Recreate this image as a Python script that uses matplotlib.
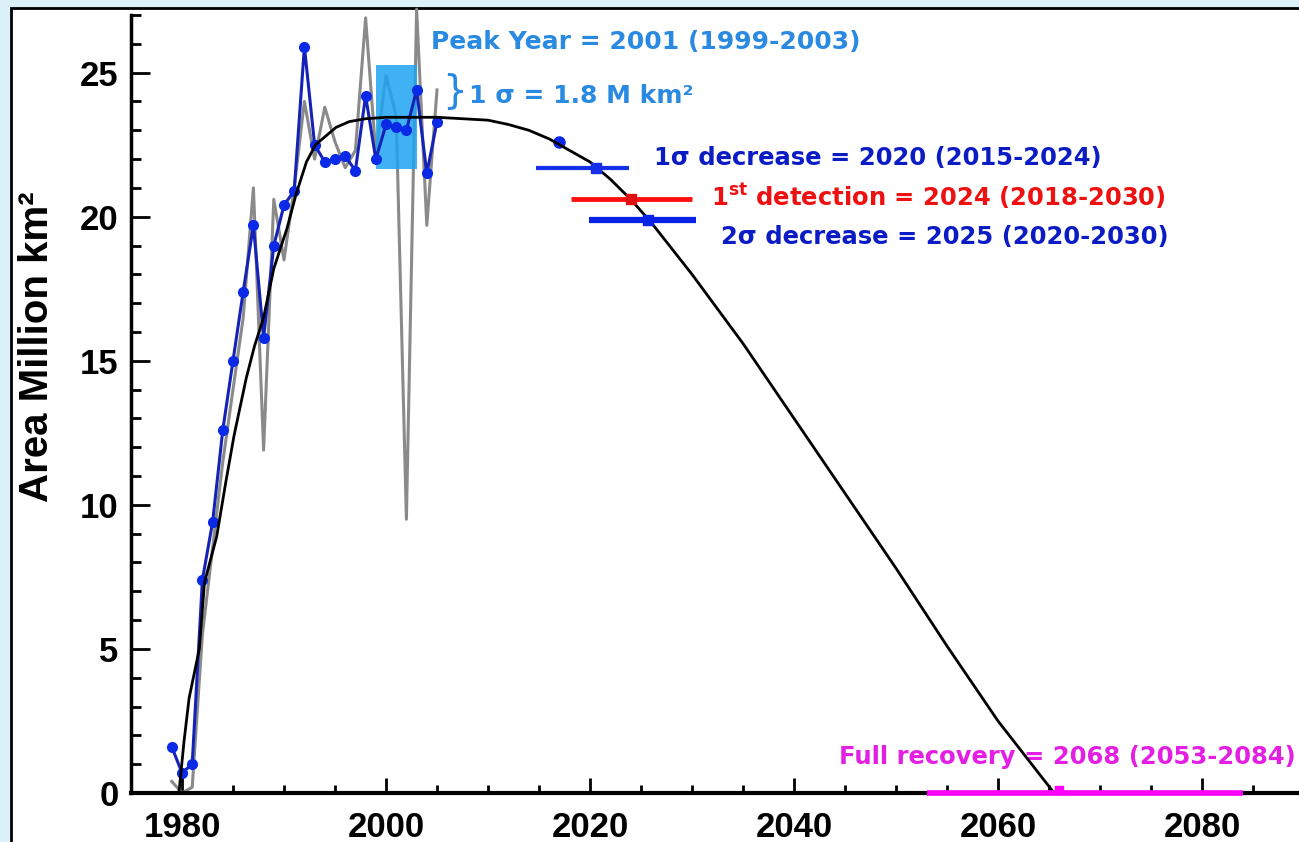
"""Ozone hole area with fitted recovery curve, redrawn as out.png."""
import matplotlib
matplotlib.use("Agg")
import matplotlib.pyplot as plt
from matplotlib.patches import Rectangle
from matplotlib.ticker import MultipleLocator

# observed area (blue, with markers)
obs_years = list(range(1979, 2006))
obs_area = [1.6, 0.7, 1.0, 7.4, 9.4, 12.6, 15.0, 17.4, 19.7, 15.8, 19.0,
            20.4, 20.9, 25.9, 22.5, 21.9, 22.0, 22.1, 21.6, 24.2, 22.0,
            23.2, 23.1, 23.0, 24.4, 21.5, 23.3]
recent_years = [2017]
recent_area = [22.6]

# second estimate (thin gray)
alt_years = list(range(1979, 2006))
alt_area = [0.4, 0.0, 0.2, 5.5, 8.5, 11.5, 14.0, 16.5, 21.0, 11.9, 20.6,
            18.5, 21.0, 24.0, 22.0, 23.8, 22.6, 21.7, 22.3, 26.9, 22.2,
            24.9, 23.5, 9.5, 27.2, 19.7, 24.4]

# fitted curve (black)
fit_years = [1979.7, 1980.2, 1980.7, 1981.7, 1982.2, 1983.4, 1984.3, 1985.1,
             1986.3, 1987.1, 1988.0, 1989.0, 1990.3, 1991.2, 1992.2, 1993.1,
             1995.1, 1996.4, 1998.0, 2000.0, 2005.0, 2010.0, 2012.0, 2014.0,
             2016.0, 2018.0, 2020.0, 2022.0, 2024.0, 2026.0, 2028.0, 2030.0,
             2032.5, 2035.0, 2037.5, 2040.0, 2045.0, 2050.0, 2055.0, 2060.0,
             2065.5]
fit_area = [0.0, 1.8, 3.3, 5.0, 7.3, 8.9, 10.8, 12.4, 14.4, 15.5, 16.5,
            18.2, 19.6, 20.8, 21.9, 22.5, 23.1, 23.3, 23.4, 23.45, 23.45,
            23.35, 23.2, 23.0, 22.7, 22.3, 21.9, 21.3, 20.6, 19.8, 18.9,
            18.0, 16.8, 15.6, 14.3, 13.0, 10.4, 7.8, 5.1, 2.5, 0.0]

# peak year box: 2001 (1999-2003), peak 23.45 +/- 1.8
peak_lo, peak_hi = 1999, 2003
peak_area, peak_sigma = 23.45, 1.8

# decrease / detection ranges
sig1_range, sig1_mark, sig1_y = (2014.7, 2023.8), 2020.6, 21.7
det_range, det_mark, det_y = (2018.1, 2030.0), 2024.0, 20.6
sig2_range, sig2_mark, sig2_y = (2019.9, 2030.4), 2025.7, 19.9
rec_range, rec_mark = (2053, 2084), 2066

W, H = 1299, 842
fig = plt.figure(figsize=(W / 100, H / 100), dpi=100)
fig.patch.set_facecolor("#dcf2f8")
panel = Rectangle((11 / W, -0.1), 1.2, 1.1 - 8 / H, transform=fig.transFigure,
                  facecolor="white", edgecolor="black", lw=2, zorder=-10)
fig.add_artist(panel)

plt.rcParams["mathtext.fontset"] = "custom"
plt.rcParams["mathtext.rm"] = "DejaVu Sans:bold"
plt.rcParams["mathtext.it"] = "DejaVu Sans:bold"
plt.rcParams["mathtext.bf"] = "DejaVu Sans:bold"
FONT = "Liberation Sans"
NOTE_FONT = "DejaVu Sans"

ax = fig.add_axes([131 / W, 49 / H, 1173 / W, 778 / H])
ax.set_facecolor("none")
ax.set_xlim(1975, 2090)
ax.set_ylim(0, 27)

ax.plot(alt_years, alt_area, color="#8a8a8a", lw=2.2, zorder=2, clip_on=False)
ax.add_patch(Rectangle((peak_lo, peak_area - peak_sigma), peak_hi - peak_lo,
                       2 * peak_sigma, facecolor="#1ea4f2", alpha=0.85,
                       edgecolor="none", zorder=3))
ax.plot(obs_years, obs_area, color="#1522b8", lw=2.2, marker="o", ms=7,
        mfc="#0a2ae8", mec="#0a2ae8", zorder=4)
ax.plot(recent_years, recent_area, ls="none", marker="o", ms=8,
        color="#0a2ae8", zorder=4)
ax.plot(fit_years, fit_area, color="black", lw=2, zorder=5)

ax.hlines(sig1_y, *sig1_range, color="#1530e8", lw=3, zorder=4)
ax.plot(sig1_mark, sig1_y, "s", ms=7, color="#1530e8", zorder=6)
ax.hlines(det_y, *det_range, color="#ff1010", lw=3.5, zorder=4)
ax.plot(det_mark, det_y, "s", ms=7, color="#e01010", zorder=6)
ax.hlines(sig2_y, *sig2_range, color="#0a22e6", lw=4.5, zorder=4)
ax.plot(sig2_mark, sig2_y, "s", ms=7, color="#0a22e6", zorder=6)
ax.hlines(0.0, *rec_range, color="#ff00ff", lw=4, zorder=6, clip_on=False)
ax.plot(rec_mark, 0.1, "s", ms=6, color="#ff00ff", zorder=7, clip_on=False)

tkw = dict(fontsize=17.5, fontweight="bold", family=NOTE_FONT, va="center",
           ha="left", clip_on=False)
ax.text(2004.4, 26.05, "Peak Year = 2001 (1999-2003)", color="#2a8ae2",
        **{**tkw, "fontsize": 18})
ax.text(2005.5, 24.35, "}", color="#2a8ae2",
        **{**tkw, "fontsize": 28, "fontweight": "normal"})
ax.text(2008.1, 24.2, "1 σ = 1.8 M km²", color="#2a8ae2",
        **{**tkw, "fontsize": 18})
ax.text(2026.3, 22.05, "1σ decrease = 2020 (2015-2024)", color="#0b1cc4", **tkw)
ax.text(2031.9, 20.7, r"1$^{\mathrm{st}}$ detection = 2024 (2018-2030)",
        color="#ee1111", **tkw)
ax.text(2032.8, 19.3, "2σ decrease = 2025 (2020-2030)", color="#0b1cc4", **tkw)
ax.text(2044.4, 1.25, "Full recovery = 2068 (2053-2084)", color="#e41fe4", **tkw)

for side in ("top", "right"):
    ax.spines[side].set_visible(False)
ax.spines["left"].set_linewidth(2.5)
ax.spines["bottom"].set_linewidth(3)
ax.xaxis.set_major_locator(MultipleLocator(20))
ax.xaxis.set_minor_locator(MultipleLocator(5))
ax.yaxis.set_major_locator(MultipleLocator(5))
ax.yaxis.set_minor_locator(MultipleLocator(1))
ax.tick_params(axis="x", which="major", direction="in", length=11, width=2,
               pad=13)
ax.tick_params(axis="x", which="minor", direction="in", length=6, width=2)
ax.tick_params(axis="y", which="major", direction="in", length=14, width=2,
               pad=9)
ax.tick_params(axis="y", which="minor", direction="in", length=7, width=2)
for lab in ax.get_xticklabels():
    lab.set_fontsize(25)
    lab.set_fontweight("bold")
    lab.set_family(FONT)
for lab in ax.get_yticklabels():
    lab.set_fontsize(25)
    lab.set_fontweight("bold")
    lab.set_family(FONT)

fig.text(37 / W, 1 - 347 / H, "Area Million km²", rotation=90, ha="center",
         va="center", fontsize=29, fontweight="bold", family=FONT)

fig.savefig("out.png", dpi=100, facecolor=fig.get_facecolor())
